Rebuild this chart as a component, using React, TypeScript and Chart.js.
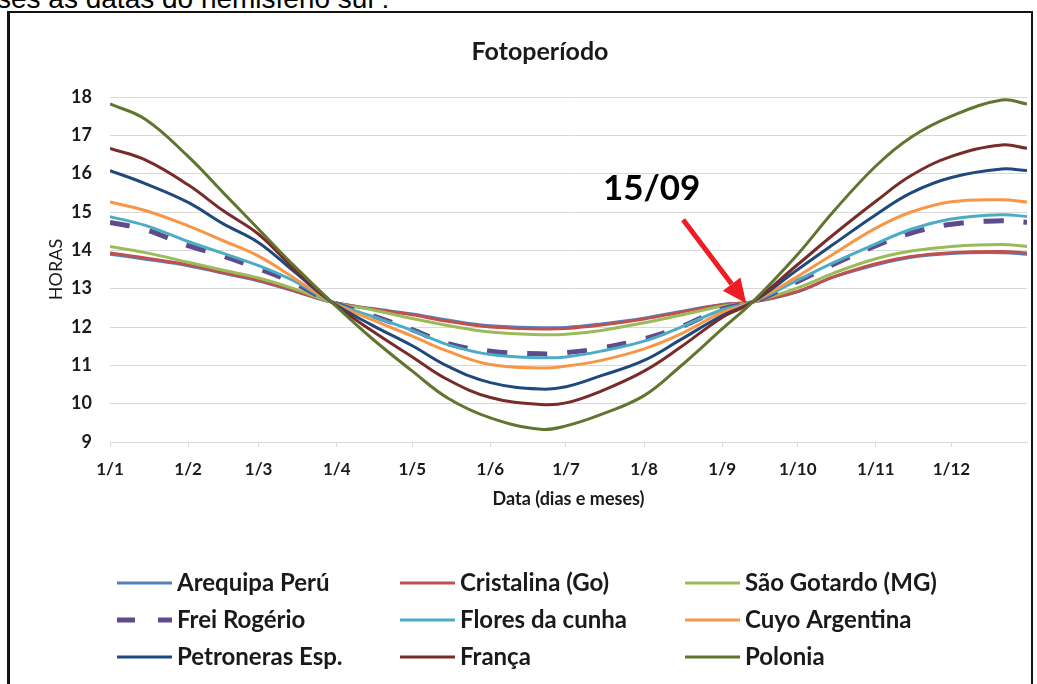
import React, { useEffect, useRef } from "react";
import { Chart, registerables } from "chart.js";

Chart.register(...registerables);

// ---------- DATA ----------
// Day-of-year positions where values were read off the picture
const dayOfYear = [1, 15, 32, 46, 60, 74, 89, 105, 121, 135, 152, 172, 182, 196, 213, 227, 244, 256, 274, 288, 305, 319, 335, 355, 365];

// Month-start tick positions (day of year) and their labels
const monthTickDays = [1, 32, 60, 91, 121, 152, 182, 213, 244, 274, 305, 335];
const monthTickLabels = ["1/1", "1/2", "1/3", "1/4", "1/5", "1/6", "1/7", "1/8", "1/9", "1/10", "1/11", "1/12"];

const seriesNames = [
  "Arequipa Perú",
  "Cristalina (Go)",
  "São Gotardo (MG)",
  "Frei Rogério",
  "Flores da cunha",
  "Cuyo Argentina",
  "Petroneras Esp.",
  "França",
  "Polonia",
];

const arequipaPeru = [13.9, 13.77, 13.6, 13.4, 13.2, 12.94, 12.65, 12.48, 12.34, 12.18, 12.03, 11.98, 11.99, 12.08, 12.23, 12.4, 12.59, 12.65, 12.92, 13.3, 13.62, 13.82, 13.92, 13.94, 13.9];
const cristalina = [13.93, 13.8, 13.62, 13.42, 13.22, 12.95, 12.65, 12.47, 12.32, 12.15, 12.0, 11.95, 11.96, 12.05, 12.21, 12.38, 12.58, 12.65, 12.93, 13.3, 13.65, 13.84, 13.94, 13.97, 13.93];
const saoGotardo = [14.1, 13.94, 13.69, 13.48, 13.28, 13.0, 12.65, 12.45, 12.22, 12.04, 11.87, 11.8, 11.81, 11.91, 12.11, 12.3, 12.54, 12.65, 13.02, 13.4, 13.78, 13.98, 14.1, 14.15, 14.1];
const freiRogerio = [14.73, 14.54, 14.12, 13.85, 13.52, 13.15, 12.65, 12.3, 11.93, 11.57, 11.37, 11.3, 11.33, 11.45, 11.69, 11.99, 12.47, 12.65, 13.19, 13.63, 14.12, 14.45, 14.68, 14.77, 14.73];
const floresDaCunha = [14.88, 14.65, 14.23, 13.92, 13.6, 13.2, 12.65, 12.28, 11.91, 11.54, 11.28, 11.2, 11.22, 11.37, 11.63, 11.98, 12.45, 12.65, 13.22, 13.67, 14.17, 14.55, 14.82, 14.93, 14.88];
const cuyoArgentina = [15.26, 15.04, 14.64, 14.25, 13.85, 13.28, 12.65, 12.19, 11.76, 11.37, 11.02, 10.93, 10.98, 11.13, 11.43, 11.8, 12.38, 12.65, 13.32, 13.9, 14.58, 15.0, 15.27, 15.32, 15.26];
const petronerasEsp = [16.08, 15.74, 15.25, 14.69, 14.2, 13.45, 12.65, 12.05, 11.51, 10.98, 10.55, 10.38, 10.44, 10.73, 11.13, 11.65, 12.3, 12.65, 13.5, 14.15, 14.93, 15.5, 15.9, 16.12, 16.08];
const franca = [16.66, 16.36, 15.71, 15.03, 14.42, 13.52, 12.65, 11.9, 11.22, 10.63, 10.16, 9.98, 10.02, 10.33, 10.85, 11.45, 12.25, 12.65, 13.63, 14.4, 15.28, 15.95, 16.45, 16.75, 16.66];
const polonia = [17.82, 17.42, 16.45, 15.5, 14.55, 13.6, 12.65, 11.7, 10.85, 10.15, 9.63, 9.33, 9.42, 9.72, 10.21, 10.95, 11.95, 12.65, 13.9, 15.0, 16.2, 16.95, 17.5, 17.92, 17.82];

const seriesValues = [arequipaPeru, cristalina, saoGotardo, freiRogerio, floresDaCunha, cuyoArgentina, petronerasEsp, franca, polonia];

const chartTitle = "Fotoperíodo";
const xAxisTitle = "Data (dias e meses)";
const yAxisTitle = "HORAS";
const yMin = 9;
const yMax = 18;

// annotation (data units: [day of year, hours])
const annotationText = "15/09";
const annotationTextAt = [216, 15.62];
const arrowFrom = [228.5, 14.8];
const arrowTo = [253.5, 12.62];

// ---------- STYLES ----------
const seriesColors = ["#4F81BD", "#C0504D", "#9BBB59", "#5F4B8B", "#4BACC6", "#F79646", "#1F497D", "#772C2A", "#5F7530"];
const seriesWidths = [3, 3, 3, 5, 3, 3, 3, 3, 3];
const seriesDashes: number[][] = [[], [], [], [20, 20], [], [], [], [], []];
const FONT = "Lato, 'Open Sans', sans-serif";
const TEXT = "#1a1a1a";

// legend grid (canvas coordinates)
const legendColX = [105, 388, 673];
const legendRowY = [570, 607, 644];
const legendLineLen = 55;

const overlayPlugin = {
  id: "overlay",
  afterDatasetsDraw(chart: any) {
    const { ctx, scales } = chart;
    const x = scales.x;
    const y = scales.y;
    ctx.save();
    ctx.font = `bold 35px ${FONT}`;
    ctx.fillStyle = "#000";
    ctx.textAlign = "center";
    ctx.textBaseline = "middle";
    ctx.fillText(annotationText, x.getPixelForValue(annotationTextAt[0]), y.getPixelForValue(annotationTextAt[1]));
    const x1 = x.getPixelForValue(arrowFrom[0]);
    const y1 = y.getPixelForValue(arrowFrom[1]);
    const x2 = x.getPixelForValue(arrowTo[0]);
    const y2 = y.getPixelForValue(arrowTo[1]);
    const ang = Math.atan2(y2 - y1, x2 - x1);
    const headLen = 24;
    const headW = 11;
    const bx = x2 - headLen * Math.cos(ang);
    const by = y2 - headLen * Math.sin(ang);
    ctx.strokeStyle = "#EE1C25";
    ctx.fillStyle = "#EE1C25";
    ctx.lineWidth = 5;
    ctx.beginPath();
    ctx.moveTo(x1, y1);
    ctx.lineTo(bx, by);
    ctx.stroke();
    ctx.beginPath();
    ctx.moveTo(x2, y2);
    ctx.lineTo(bx + headW * Math.sin(ang), by - headW * Math.cos(ang));
    ctx.lineTo(bx - headW * Math.sin(ang), by + headW * Math.cos(ang));
    ctx.closePath();
    ctx.fill();
    ctx.restore();
  },
  afterDraw(chart: any) {
    const { ctx } = chart;
    ctx.save();
    ctx.font = `bold 25px ${FONT}`;
    ctx.fillStyle = TEXT;
    ctx.textAlign = "center";
    ctx.textBaseline = "middle";
    ctx.fillText(chartTitle, 528, 39);
    chart.data.datasets.forEach((ds: any, i: number) => {
      const col = i % 3;
      const row = Math.floor(i / 3);
      const lx = legendColX[col];
      const ly = legendRowY[row];
      ctx.strokeStyle = ds.borderColor;
      ctx.lineWidth = ds.borderWidth;
      ctx.setLineDash(ds.borderDash && ds.borderDash.length ? [18, 23] : []);
      ctx.beginPath();
      ctx.moveTo(lx, ly);
      ctx.lineTo(lx + legendLineLen, ly);
      ctx.stroke();
      ctx.setLineDash([]);
      ctx.font = `bold 24px ${FONT}`;
      ctx.fillStyle = TEXT;
      ctx.textAlign = "left";
      ctx.textBaseline = "middle";
      ctx.fillText(ds.label, lx + legendLineLen + 5, ly);
    });
    ctx.restore();
  },
};

export default function App() {
  const ref = useRef<HTMLCanvasElement>(null);
  useEffect(() => {
    const canvas = ref.current!;
    const datasets = seriesNames.map((name, i) => ({
      label: name,
      data: dayOfYear.map((d, k) => ({ x: d, y: seriesValues[i][k] })),
      borderColor: seriesColors[i],
      backgroundColor: seriesColors[i],
      borderWidth: seriesWidths[i],
      borderDash: seriesDashes[i],
      pointRadius: 0,
      pointHoverRadius: 0,
      tension: 0.4,
      fill: false,
      order: seriesNames.length - i,
    }));
    const chart = new Chart(canvas, {
      type: "line",
      data: { datasets },
      options: {
        responsive: false,
        animation: false,
        events: [],
        layout: { padding: { top: 84, left: 0, right: 1, bottom: 162 } },
        font: { family: FONT },
        plugins: {
          legend: { display: false },
          title: { display: false },
          tooltip: { enabled: false },
        },
        scales: {
          x: {
            type: "linear",
            min: 1,
            max: 365,
            afterBuildTicks: (s: any) => {
              s.ticks = monthTickDays.map((v) => ({ value: v }));
            },
            afterFit: (s: any) => {
              s.height = 80;
            },
            ticks: {
              autoSkip: false,
              maxRotation: 0,
              minRotation: 0,
              padding: 12,
              color: TEXT,
              font: { family: FONT, size: 17, weight: "bold" },
              callback: (_v: any, idx: number) => monthTickLabels[idx],
            },
            grid: { drawOnChartArea: false, drawTicks: true, tickLength: 5, color: "#d9d9d9" },
            border: { display: true, color: "#d9d9d9" },
            title: {
              display: true,
              text: xAxisTitle,
              color: TEXT,
              font: { family: FONT, size: 18, weight: "bold" },
              padding: { top: 0, bottom: 12 },
            },
          },
          y: {
            min: yMin,
            max: yMax,
            afterFit: (s: any) => {
              s.width = 98;
            },
            ticks: {
              stepSize: 1,
              padding: 18,
              color: TEXT,
              font: { family: FONT, size: 18, weight: "bold" },
            },
            grid: { color: "#d9d9d9", drawTicks: false },
            border: { display: false },
            title: {
              display: true,
              text: yAxisTitle,
              color: TEXT,
              font: { family: FONT, size: 18, weight: "normal" },
              padding: { top: 33, bottom: 0 },
            },
          },
        },
      },
      plugins: [overlayPlugin],
    } as any);
    return () => chart.destroy();
  }, []);

  return (
    <div style={{ position: "absolute", left: 0, top: 0, width: 1037, height: 684, overflow: "hidden", background: "#fff" }}>
      <div
        style={{
          position: "absolute",
          left: -3,
          top: -15,
          fontFamily: "'Liberation Sans', Arial, sans-serif",
          fontSize: 28,
          lineHeight: "28px",
          color: "#000",
          whiteSpace: "nowrap",
        }}
      >
        ses as datas do hemisfério sul :
      </div>
      <div
        style={{
          position: "absolute",
          left: 7,
          top: 11,
          width: 1021,
          height: 700,
          borderLeft: "3px solid #111",
          borderTop: "2px solid #111",
          borderRight: "2px solid #111",
        }}
      />
      <canvas ref={ref} width={1016} height={671} style={{ position: "absolute", left: 12, top: 13 }} />
    </div>
  );
}
